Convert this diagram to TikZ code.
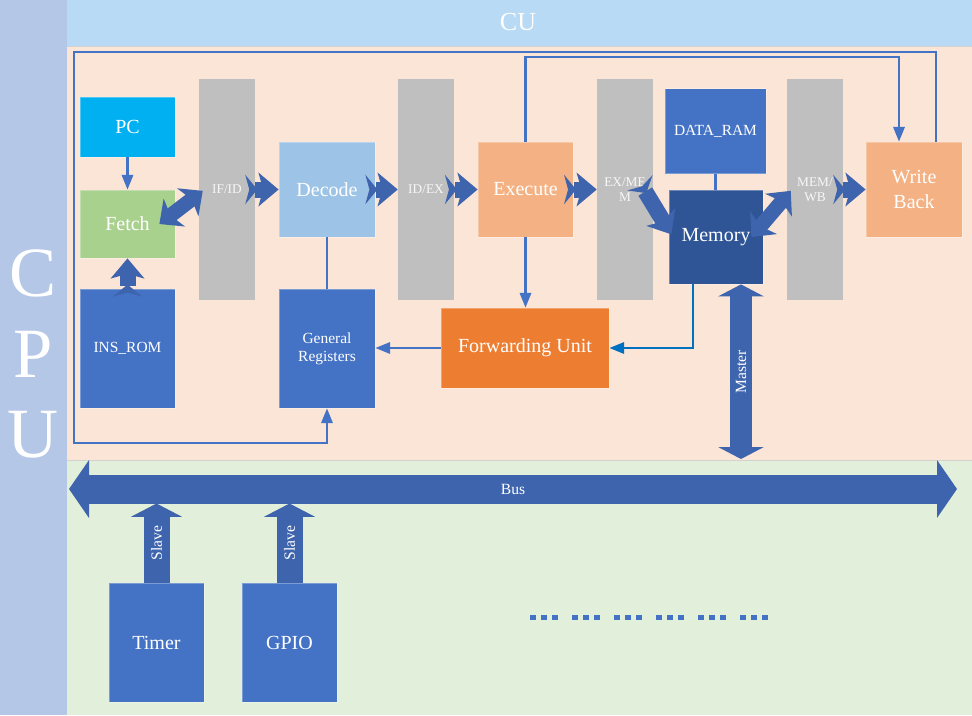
\documentclass[tikz,border=0pt]{standalone}
\usepackage{fontspec}
\setmainfont{Liberation Serif}
\usetikzlibrary{arrows.meta}
\definecolor{cpuc}{RGB}{180,199,231}
\definecolor{cuc}{RGB}{184,218,245}
\definecolor{peach}{RGB}{251,229,214}
\definecolor{lgreen}{RGB}{226,239,218}
\definecolor{lineblue}{RGB}{68,114,196}
\definecolor{medblue}{RGB}{68,114,196}
\definecolor{darkblue}{RGB}{47,85,151}
\definecolor{arrblue}{RGB}{62,100,173}
\definecolor{linkblue}{RGB}{0,112,192}
\definecolor{pcblue}{RGB}{0,176,240}
\definecolor{fetchgreen}{RGB}{169,209,142}
\definecolor{decblue}{RGB}{157,195,230}
\definecolor{exorange}{RGB}{244,177,131}
\definecolor{fwdorange}{RGB}{237,125,49}
\definecolor{regray}{RGB}{191,191,191}
\definecolor{sepgray}{RGB}{210,210,210}
\begin{document}
\begin{tikzpicture}[x=0.75pt,y=-0.75pt,
  blk/.style={draw=white, draw opacity=0.3, line width=0.6pt, text=white, inner sep=1pt, align=center, font=\fontsize{15}{18.75}\selectfont},
  smalltext/.style={font=\fontsize{11.6}{13.8}\selectfont},
  reg/.style={fill=regray, minimum width=42pt, minimum height=165.75pt, text=white!94!gray, font=\fontsize{10}{11.25}\selectfont, align=center, inner sep=0pt},
  lines/.style={lineblue, line width=1.6pt},
  tarr/.style={lines, -{Triangle[length=11pt,width=8.5pt]}},
  fat/.style={arrblue, line width=12pt, {Stealth[reversed,length=9pt,width=22pt,inset=3pt]}-{Stealth[length=15pt,width=25pt,inset=3.5pt]}},
  dfat/.style={arrblue, line width=11pt, {Stealth[length=14pt,width=26pt,inset=3.5pt]}-{Stealth[length=14pt,width=26pt,inset=3.5pt]}},
  busarr/.style={arrblue, line width=21.75pt, {Triangle[length=15pt,width=42.75pt]}-{Triangle[length=15pt,width=42.75pt]}},
  mastarr/.style={arrblue, line width=16.5pt, {Triangle[length=9pt,width=34pt]}-{Triangle[length=9pt,width=34pt]}},
  slavearr/.style={arrblue, line width=19.5pt, -{Triangle[length=10pt,width=38pt]}},
  arrlabel/.style={text=white, font=\fontsize{11.7}{14}\selectfont, inner sep=0pt}
]
\useasboundingbox (0,0) rectangle (972,715);
% backgrounds
\fill[white] (0,0) rectangle (972,715);
\fill[cpuc] (0,0) rectangle (67,715);
\fill[cuc] (67,0) rectangle (972,46);
\fill[peach] (67,46) rectangle (972,460);
\fill[lgreen] (67,460) rectangle (972,715);
\draw[sepgray, line width=0.75pt] (67,46) -- (972,46);
\draw[sepgray, line width=0.75pt] (67,460) -- (972,460);
\node[text=white, font=\fontsize{19.5}{22}\selectfont] (cu) at (518,22) {CU};
\node[text=white, font=\fontsize{53}{60}\selectfont] (cpuC) at (33,273) {C};
\node[text=white, font=\fontsize{53}{60}\selectfont] (cpuP) at (33,354) {P};
\node[text=white, font=\fontsize{53}{60}\selectfont] (cpuU) at (33,435) {U};

% blocks
\node[blk, fill=pcblue, minimum width=71.25pt, minimum height=45pt] (pc) at (127.5,127) {PC};
\node[blk, fill=fetchgreen, minimum width=71.25pt, minimum height=51pt] (fetch) at (127.5,224) {Fetch};
\node[blk, smalltext, fill=medblue, minimum width=71.25pt, minimum height=89.25pt] (insrom) at (127.5,348.5) {INS\_ROM};
\node[reg] (ifid) at (227,189.5) {IF/ID};
\node[blk, fill=decblue, minimum width=72pt, minimum height=71.25pt] (decode) at (327,189.5) {Decode};
\node[blk, smalltext, fill=medblue, minimum width=72pt, minimum height=89.25pt] (greg) at (327,348.5) {General\\Registers};
\node[reg] (idex) at (426,189.5) {ID/EX};
\node[blk, fill=exorange, minimum width=71.25pt, minimum height=71.25pt] (exe) at (525.5,189.5) {Execute};
\node[reg] (exmem) at (625,189.5) {EX/ME\\M};
\node[blk, smalltext, fill=medblue, minimum width=75.75pt, minimum height=63.75pt] (dram) at (715.5,131) {DATA\_RAM};
\node[blk, fill=darkblue, minimum width=70.5pt, minimum height=70.5pt] (mem) at (716,237) {Memory};
\node[reg] (mewb) at (815,189.5) {MEM/\\WB};
\node[blk, fill=exorange, minimum width=72pt, minimum height=71.25pt] (wb) at (914,189.5) {Write\\Back};
\node[blk, fill=fwdorange, minimum width=126pt, minimum height=60pt] (fwd) at (525,348) {Forwarding Unit};
\node[blk, fill=medblue, minimum width=71.25pt, minimum height=89.25pt] (timer) at (156.5,642.5) {Timer};
\node[blk, fill=medblue, minimum width=71.25pt, minimum height=89.25pt] (gpio) at (289.5,642.5) {GPIO};

% thin connectors
\coordinate (loopTL) at (74,52);
\coordinate (loopBL) at (74,443);
\coordinate (exTR) at (899,57);
\draw[tarr] ([xshift=16.5pt]wb.north) |- (loopTL) -- (loopBL) -| (greg.south);
\draw[tarr] (exe.north) |- (exTR) -- ([xshift=-11.25pt]wb.north);
\draw[tarr] (pc) -- (fetch);
\draw[lines] (decode) -- (greg);
\draw[lines] (dram) -- (dram |- mem.north);
\draw[tarr] (exe.south) -- (exe.south |- fwd.north);
\draw[tarr] (fwd.west) -- (fwd.west -| greg.east);
\draw[linkblue, line width=1.6pt, -{Triangle[length=11pt,width=8.5pt]}] ([xshift=-17.25pt]mem.south) |- (fwd.east);

% fat pipeline arrows
\draw[dfat] ([xshift=-12pt]fetch.east) -- ([xshift=3pt,yshift=-1pt]ifid.west);
\draw[fat] ([xshift=-7.5pt]ifid.east) -- (decode.west);
\draw[fat] ([xshift=-7.5pt]decode.east) -- (idex.west);
\draw[fat] ([xshift=-7pt]idex.east) -- (exe.west);
\draw[fat] ([xshift=-7pt]exe.east) -- (exmem.west);
\draw[fat] ([xshift=11.25pt,yshift=5pt]exmem.center) -- ([xshift=2pt,yshift=2pt]mem.west);
\draw[dfat] ([xshift=-9pt]mem.east) -- ([xshift=3pt,yshift=-1pt]mewb.west);
\draw[fat] ([xshift=-7.5pt]mewb.east) -- (wb.west);
\draw[fat] ([yshift=-6pt]insrom.north) -- (fetch.south);

% bus arrows
\coordinate (busL) at (69,489);
\coordinate (busR) at (957,489);
\coordinate (busBot) at (0,503.5);
\coordinate (mastB) at (741,459);
\draw[busarr] (busL) -- (busR) node[midway, arrlabel] {Bus};
\draw[mastarr] ([xshift=18.75pt]mem.south) -- (mastB) node[midway, arrlabel, rotate=90] {Master};
\draw[slavearr] (timer.north) -- (timer.north |- busBot) node[midway, arrlabel, rotate=90] {Slave};
\draw[slavearr] (gpio.north) -- (gpio.north |- busBot) node[midway, arrlabel, rotate=90] {Slave};

% dots
\foreach \g in {0,...,5}
  \foreach \i in {0,1,2}
    \fill[lineblue] ({530+42*\g+11*\i},614.5) rectangle +(5.5,5.5);
\end{tikzpicture}
\end{document}
